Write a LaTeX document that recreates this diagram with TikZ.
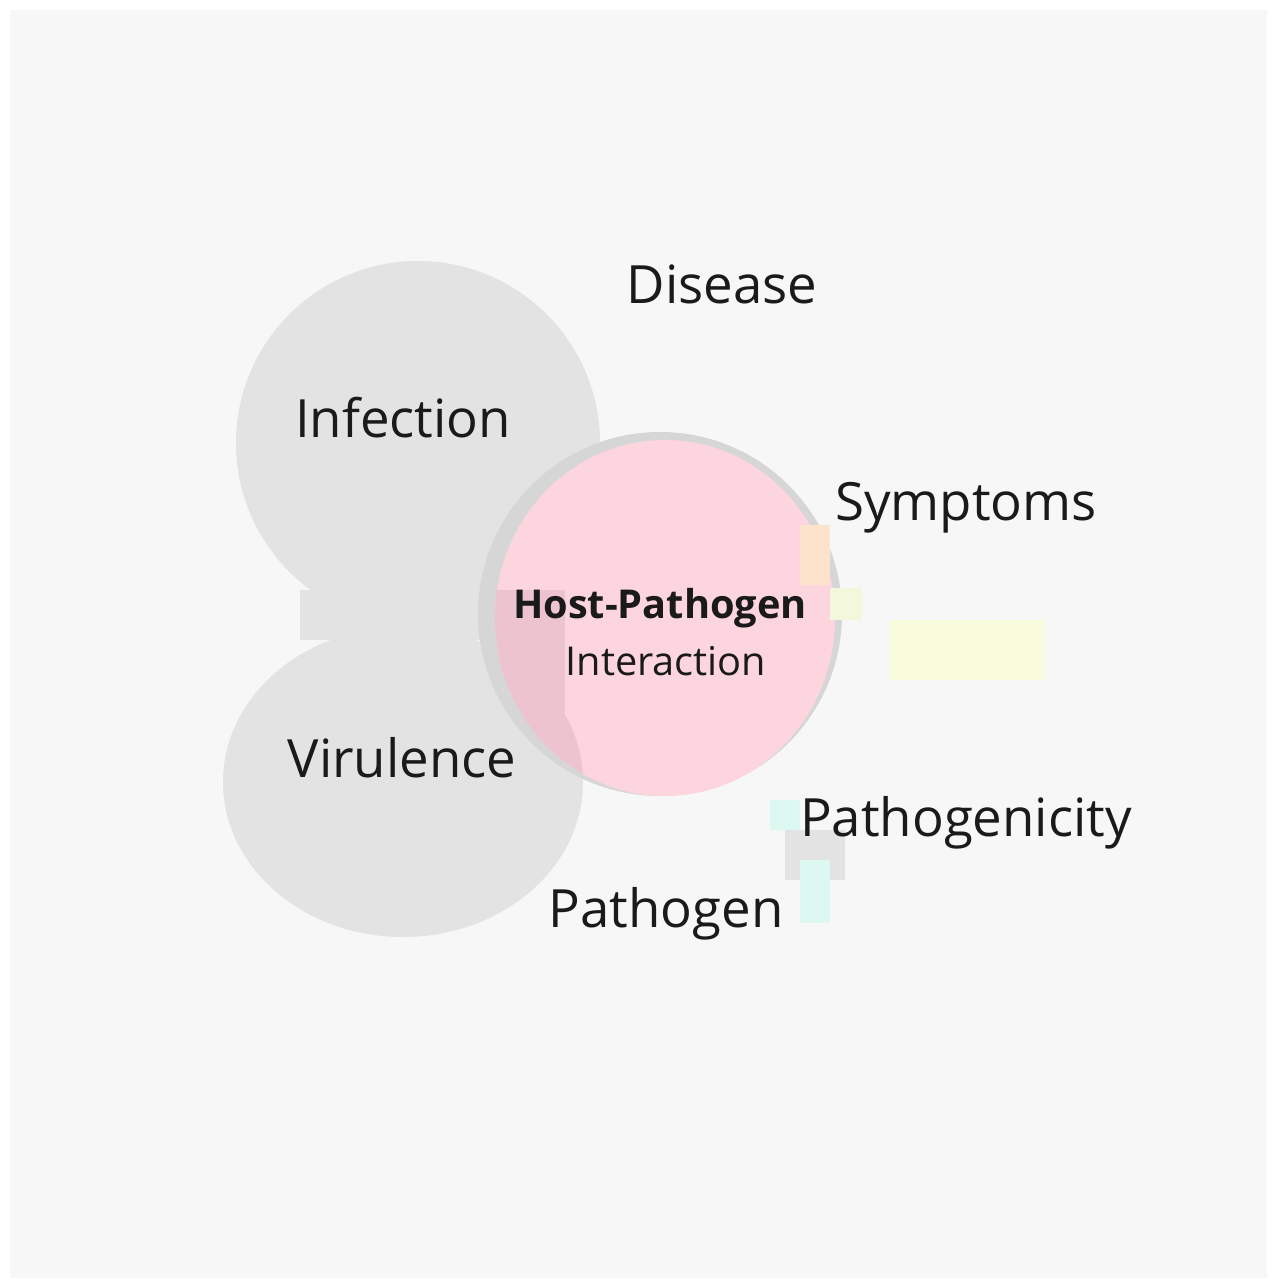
\documentclass[tikz,border=0pt]{standalone}
\usepackage{fontspec}
\setmainfont{Open Sans}
\usepackage{xcolor}
\usepackage{tikz}
\usetikzlibrary{positioning}
\definecolor{pagebg}{HTML}{F7F7F7}
\definecolor{blobx}{HTML}{E3E3E3}
\definecolor{ringx}{HTML}{D6D6D6}
\definecolor{pinkx}{HTML}{FDD5DF}
\definecolor{pinkdk}{HTML}{EEC3D0}
\definecolor{orangex}{HTML}{FDE3CC}
\definecolor{limex}{HTML}{F3F8DC}
\definecolor{yellowx}{HTML}{F9FBDD}
\definecolor{tealx}{HTML}{DCF8F1}
\definecolor{inkx}{HTML}{1A1A1A}
\tikzset{
  lbl/.style={font=\fontsize{15}{18}\selectfont,text=inkx,inner sep=0pt,anchor=base},
  hp/.style={font=\fontsize{11.3}{13}\selectfont,text=inkx,inner sep=0pt,anchor=base}
}
\begin{document}
\begin{tikzpicture}[x=0.01cm,y=-0.01cm]
\useasboundingbox (0,0) rectangle (1277,1288);
\fill[white] (0,0) rectangle (1277,1288);
\fill[pagebg] (10,10) rectangle (1267,1278);
% grey blobs
\fill[blobx] (418,443) circle (182);
\fill[blobx] (403,782) ellipse (180 and 155);
\fill[blobx] (300,590) rectangle (480,640);
% ring and centre
\fill[ringx] (660,614) circle (182);
\fill[pinkx] (665,618) ellipse (170 and 178);
\begin{scope}
  \clip (665,618) ellipse (170 and 178);
  \fill[pinkdk] (403,782) ellipse (180 and 155);
  \fill[pinkdk] (480,590) rectangle (565,745);
\end{scope}
% small patches
\fill[orangex] (800,525) rectangle (830,585);
\fill[limex] (830,588) rectangle (862,620);
\fill[yellowx] (890,620) rectangle (1045,680);
\fill[tealx] (770,800) rectangle (800,830);
\fill[blobx] (785,830) rectangle (845,880);
\fill[tealx] (800,860) rectangle (830,923);
% labels
\node[lbl] (disease) at (722,303) {Disease};
\node[lbl] (infection) at (403,437) {Infection};
\node[lbl] (symptoms) at (966,520) {Symptoms};
\node[hp,font=\fontsize{11.3}{13}\selectfont\bfseries] (host) at (660,618) {Host-Pathogen};
\node[hp] (inter) at (666,675) {Interaction};
\node[lbl] (virulence) at (402,777) {Virulence};
\node[lbl] (pgen) at (966,836) {Pathogenicity};
\node[lbl] (pathogen) at (666,927) {Pathogen};
\end{tikzpicture}
\end{document}
